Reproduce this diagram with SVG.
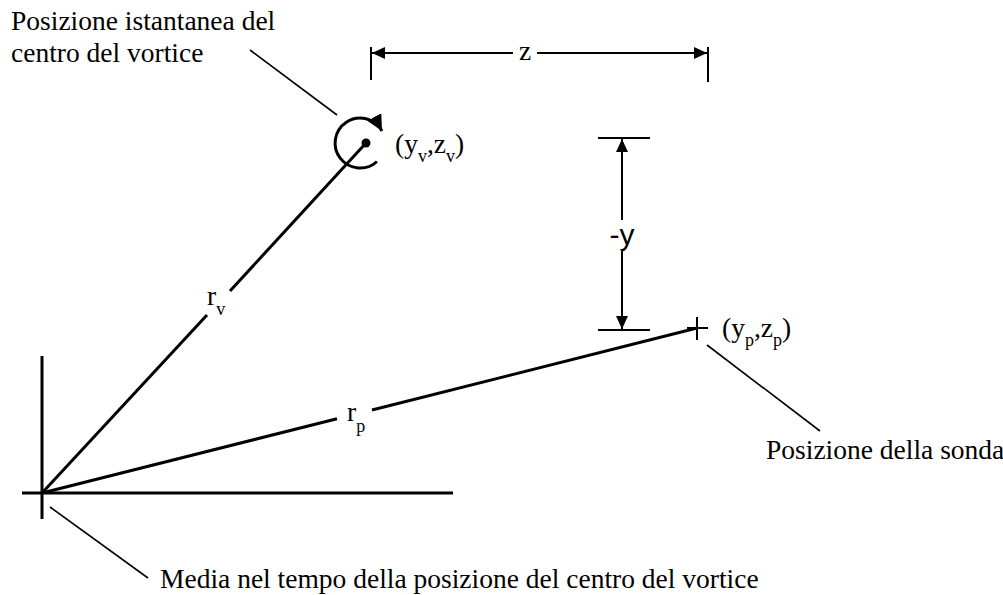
<svg xmlns="http://www.w3.org/2000/svg" width="1003" height="595" viewBox="0 0 1003 595">
<style>
text{font-family:"Liberation Serif","Times New Roman",serif;fill:#000}
.lbl{font-size:27.5px}
.sub{font-size:18px}
.sans{font-family:"Liberation Sans",Arial,sans-serif;font-size:30px}
.thick{stroke:#000;stroke-width:3;fill:none}
.med{stroke:#000;stroke-width:2;fill:none}
.thin{stroke:#000;stroke-width:1.6;fill:none}
</style>
<defs>
<marker id="ah" markerUnits="userSpaceOnUse" markerWidth="14" markerHeight="12" refX="13" refY="6" orient="auto"><path d="M0,0 L13,6 L0,12 Z" fill="#000"/></marker>
<marker id="ahc" markerUnits="userSpaceOnUse" markerWidth="18" markerHeight="16" refX="16" refY="8" orient="auto"><path d="M0,0 L16,8 L0,16 Z" fill="#000"/></marker>
</defs>
<rect width="1003" height="595" fill="#fff"/>
<g id="connectors">
<line class="thick" x1="42" y1="356" x2="42" y2="519"/>
<line class="thick" x1="22" y1="493" x2="453" y2="493"/>
<line class="thick" x1="42" y1="493" x2="207" y2="315"/>
<line class="thick" x1="230" y1="291" x2="366" y2="143"/>
<line class="thick" x1="42" y1="493" x2="337" y2="418.7"/>
<line class="thick" x1="372" y1="410" x2="697" y2="328"/>
<line class="thin" x1="250" y1="50" x2="337" y2="115"/>
<line class="thin" x1="707" y1="345" x2="820" y2="431"/>
<line class="thin" x1="50" y1="507" x2="148" y2="578"/>
<line class="med" x1="371" y1="47" x2="371" y2="80"/>
<line class="med" x1="708" y1="47" x2="708" y2="82"/>
<path class="med" d="M513,53 L372,53" marker-end="url(#ah)"/>
<path class="med" d="M537,53 L707,53" marker-end="url(#ah)"/>
<line class="med" x1="598" y1="138" x2="650" y2="138"/>
<line class="med" x1="598" y1="330" x2="650" y2="330"/>
<path class="med" d="M622,220 L622,139" marker-end="url(#ah)"/>
<path class="med" d="M622,251 L622,329" marker-end="url(#ah)"/>
</g>
<g id="vortex">
<path class="thick" d="M377,161.5 A25,25 0 1 1 382,131" marker-end="url(#ahc)"/>
<circle cx="366" cy="143" r="4.5" fill="#000"/>
<text class="lbl" x="395" y="153">(y<tspan class="sub" dy="9">v</tspan><tspan dy="-9">,z</tspan><tspan class="sub" dy="9">v</tspan><tspan dy="-9">)</tspan></text>
</g>
<g id="probe">
<line class="med" x1="687" y1="328" x2="708" y2="328"/>
<line class="med" x1="697" y1="317" x2="697" y2="340"/>
<text class="lbl" x="722" y="337">(y<tspan class="sub" dy="9">p</tspan><tspan dy="-9">,z</tspan><tspan class="sub" dy="9">p</tspan><tspan dy="-9">)</tspan></text>
</g>
<g id="label-vortex">
<text class="lbl" x="11" y="30">Posizione istantanea del</text>
<text class="lbl" x="11" y="62">centro del vortice</text>
</g>
<g id="label-probe">
<text class="lbl" x="766" y="459">Posizione della sonda</text>
</g>
<g id="label-mean">
<text class="lbl" x="160" y="588">Media nel tempo della posizione del centro del vortice</text>
</g>
<g id="label-rv">
<text class="lbl" x="207" y="305">r<tspan class="sub" dy="10">v</tspan></text>
</g>
<g id="label-rp">
<text class="lbl" x="347" y="421">r<tspan class="sub" dy="11">p</tspan></text>
</g>
<g id="label-z">
<text class="lbl" x="525" y="60" text-anchor="middle">z</text>
</g>
<g id="label-y">
<text class="sans" x="622" y="245" text-anchor="middle">-y</text>
</g>
</svg>
